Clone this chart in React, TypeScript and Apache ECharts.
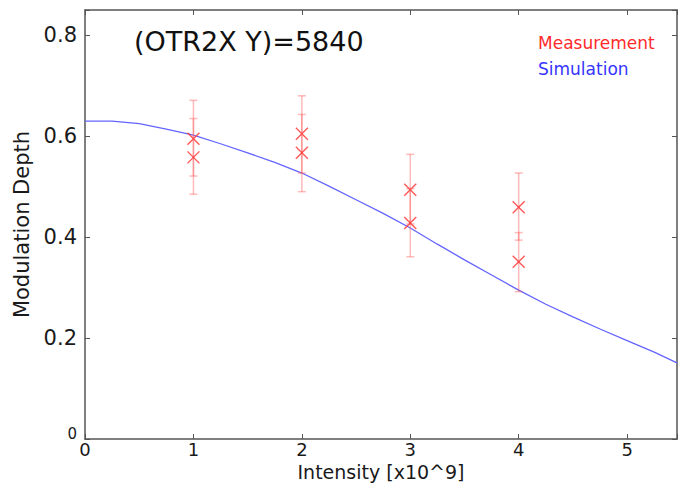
import React, { useEffect, useRef } from "react";
import * as echarts from "echarts";

const simX = [0, 0.25, 0.5, 0.75, 1.0, 1.25, 1.5, 1.75, 2.0, 2.25, 2.5, 2.75, 3.0, 3.25, 3.5, 3.75, 4.0, 4.25, 4.5, 4.75, 5.0, 5.25, 5.46];
const simY = [0.630, 0.630, 0.625, 0.614, 0.602, 0.585, 0.567, 0.548, 0.527, 0.501, 0.474, 0.447, 0.418, 0.386, 0.355, 0.325, 0.295, 0.267, 0.242, 0.218, 0.195, 0.172, 0.151];

const measX = [1, 1, 2, 2, 3, 3, 4, 4];
const measY = [0.595, 0.558, 0.605, 0.567, 0.494, 0.428, 0.459, 0.351];
const measLow = [0.521, 0.485, 0.527, 0.490, 0.426, 0.361, 0.394, 0.292];
const measHigh = [0.671, 0.635, 0.680, 0.643, 0.564, 0.496, 0.527, 0.409];

const xTicks = [0, 1, 2, 3, 4, 5];
const yTicks = [0, 0.2, 0.4, 0.6, 0.8];

const titleText = "(OTR2X Y)=5840";
const legendMeas = "Measurement";
const legendSim = "Simulation";
const xName = "Intensity [x10^9]";
const yName = "Modulation Depth";

const FONT = "'DejaVu Sans', Verdana, sans-serif";
const AXIS_COLOR = "#555";
const TEXT_COLOR = "#1a1a1a";

export default function App() {
  const ref = useRef<HTMLDivElement>(null);
  useEffect(() => {
    if (!ref.current) return;
    const chart = echarts.init(ref.current, undefined, { renderer: "svg" });
    const simData = simX.map((x, i) => [x, simY[i]]);
    const measData = measX.map((x, i) => [x, measY[i], measLow[i], measHigh[i]]);
    const commonX = {
      type: "value" as const,
      min: 0,
      max: 5.46,
      interval: 1,
      splitLine: { show: false },
      axisLine: { show: true, onZero: false, lineStyle: { color: AXIS_COLOR, width: 1.5 } },
      axisTick: { show: true, inside: true, length: 5, lineStyle: { color: AXIS_COLOR, width: 1 } },
    };
    const commonY = {
      type: "value" as const,
      min: 0,
      max: 0.85,
      interval: 0.2,
      splitLine: { show: false },
      axisLine: { show: true, onZero: false, lineStyle: { color: AXIS_COLOR, width: 1.5 } },
      axisTick: { show: true, inside: true, length: 5, lineStyle: { color: AXIS_COLOR, width: 1 } },
    };
    chart.setOption({
      animation: false,
      backgroundColor: "#ffffff",
      grid: { left: 85, right: 6, top: 10, bottom: 51, containLabel: false },
      xAxis: [
        {
          ...commonX,
          position: "bottom",
          name: xName,
          nameLocation: "middle",
          nameGap: 21,
          nameTextStyle: { fontFamily: FONT, fontSize: 19, color: TEXT_COLOR },
          axisLabel: {
            show: true,
            fontFamily: FONT,
            fontSize: 18,
            color: TEXT_COLOR,
            margin: 1,
            formatter: (v: number) => (xTicks.includes(v) ? String(v) : ""),
          },
        },
        {
          ...commonX,
          position: "top",
          axisLabel: { show: false },
        },
      ],
      yAxis: [
        {
          ...commonY,
          position: "left",
          name: yName,
          nameLocation: "middle",
          nameRotate: 90,
          nameGap: 51,
          nameTextStyle: { fontFamily: FONT, fontSize: 21, color: TEXT_COLOR },
          axisLabel: {
            show: true,
            fontFamily: FONT,
            fontSize: 21,
            color: TEXT_COLOR,
            margin: 8,
            formatter: (v: number) => {
              const t = yTicks.find((k) => Math.abs(k - v) < 1e-6);
              if (t === undefined) return "";
              return t === 0 ? "{s|0}" : t.toFixed(1);
            },
            rich: {
              s: { fontFamily: FONT, fontSize: 15, color: TEXT_COLOR, padding: [0, 0, 10, 0] },
            },
          },
        },
        {
          ...commonY,
          position: "right",
          axisLabel: { show: false },
        },
      ],
      graphic: [
        {
          type: "text",
          x: 134,
          y: 41,
          style: { text: titleText, fontFamily: FONT, fontSize: 27, fill: "#111", verticalAlign: "middle" },
        },
        {
          type: "text",
          x: 538,
          y: 43,
          style: { text: legendMeas, fontFamily: FONT, fontSize: 17, fill: "#ff2a2a", verticalAlign: "middle" },
        },
        {
          type: "text",
          x: 538,
          y: 69,
          style: { text: legendSim, fontFamily: FONT, fontSize: 17, fill: "#3535ff", verticalAlign: "middle" },
        },
      ],
      series: [
        {
          type: "line",
          name: legendSim,
          xAxisIndex: 0,
          yAxisIndex: 0,
          data: simData,
          showSymbol: false,
          smooth: false,
          lineStyle: { color: "#6464ff", width: 1.3 },
          z: 3,
        },
        {
          type: "custom",
          name: legendMeas,
          xAxisIndex: 0,
          yAxisIndex: 0,
          data: measData,
          z: 4,
          renderItem: (params: any, api: any) => {
            const x = api.value(0);
            const p = api.coord([x, api.value(1)]);
            const pl = api.coord([x, api.value(2)]);
            const ph = api.coord([x, api.value(3)]);
            const cap = 4;
            const s = 6;
            const barStyle = { stroke: "rgba(255,90,90,0.42)", lineWidth: 1.5 };
            const crossStyle = { stroke: "rgba(255,60,60,0.85)", lineWidth: 1.4 };
            return {
              type: "group",
              children: [
                { type: "line", shape: { x1: pl[0], y1: pl[1], x2: ph[0], y2: ph[1] }, style: barStyle },
                { type: "line", shape: { x1: pl[0] - cap, y1: pl[1], x2: pl[0] + cap, y2: pl[1] }, style: barStyle },
                { type: "line", shape: { x1: ph[0] - cap, y1: ph[1], x2: ph[0] + cap, y2: ph[1] }, style: barStyle },
                { type: "line", shape: { x1: p[0] - s, y1: p[1] - s, x2: p[0] + s, y2: p[1] + s }, style: crossStyle },
                { type: "line", shape: { x1: p[0] - s, y1: p[1] + s, x2: p[0] + s, y2: p[1] - s }, style: crossStyle },
              ],
            };
          },
        },
      ],
    });
    return () => chart.dispose();
  }, []);
  return <div ref={ref} style={{ width: 683, height: 490, position: "absolute", left: 0, top: 0 }} />;
}
